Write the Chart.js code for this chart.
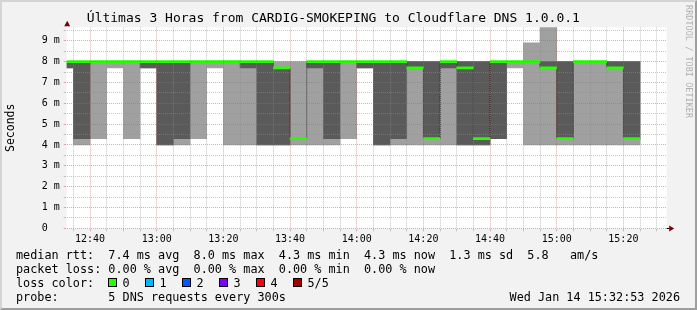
<!DOCTYPE html>
<html>
<head>
<meta charset="utf-8">
<script src="https://cdn.jsdelivr.net/npm/chart.js@4.4.1/dist/chart.umd.min.js"></script>
<style>
  html, body { margin: 0; padding: 0; background: #f2f2f2; }
  #wrap { position: relative; width: 697px; height: 310px; overflow: hidden; }
  #grafico { position: absolute; left: 0; top: 0; }
  #moldura { position: absolute; left: 0; top: 0; width: 697px; height: 310px; box-sizing: border-box;
    border-left: 2px solid #d4d4d4; border-top: 2px solid #d4d4d4;
    border-right: 2px solid #9e9e9e; border-bottom: 2px solid #9e9e9e; pointer-events: none; }
  .linha { position: absolute; left: 16px; font: 11.8px "DejaVu Sans Mono", monospace; line-height: 14px;
    white-space: pre; color: #000; }
  .quadrado { position: absolute; width: 7px; height: 7px; border: 1px solid #000; }
  #marca { position: absolute; left: 684px; top: 5px; writing-mode: vertical-rl;
    font: 8.4px "DejaVu Sans Mono", monospace; line-height: 9px; color: #b0b0b0; letter-spacing: 0.1px; }
</style>
</head>
<body>
<div id="wrap">
  <canvas id="grafico" width="697" height="310"></canvas>
  <div id="legenda"></div>
  <div id="marca">RRDTOOL / TOBI OETIKER</div>
  <div id="moldura"></div>
</div>
<script>
// Horários de início de cada intervalo de 5 minutos
const columnTimes = ['12:30', '12:35', '12:40', '12:45', '12:50', '12:55', '13:00', '13:05', '13:10',
    '13:15', '13:20', '13:25', '13:30', '13:35', '13:40', '13:45', '13:50', '13:55', '14:00', '14:05',
    '14:10', '14:15', '14:20', '14:25', '14:30', '14:35', '14:40', '14:45', '14:50', '14:55', '15:00',
    '15:05', '15:10', '15:15', '15:20'];

// Os 5 pings ordenados (ms) de cada intervalo
const pingMin = [7.7, 4.0, 4.3, 7.7, 4.3, 7.7, 4.0, 4.0, 4.3, 7.7, 4.0, 4.0, 4.0, 4.0, 4.0, 4.0, 4.0,
    4.3, 7.7, 4.0, 4.0, 4.0, 4.0, 4.0, 4.0, 4.0, 4.3, 7.7, 4.0, 4.0, 4.0, 4.0, 4.0, 4.0, 4.0];
const pingLow = [7.7, 4.3, 8.0, 8.0, 8.0, 7.7, 4.0, 4.3, 8.0, 8.0, 8.0, 7.7, 4.0, 4.0, 4.3, 7.7, 4.3,
    8.0, 7.7, 4.0, 4.3, 7.7, 4.3, 7.7, 4.0, 4.0, 4.3, 8.0, 8.0, 7.7, 4.3, 8.0, 8.0, 7.7, 4.3];
const pingMedian = [8.0, 8.0, 8.0, 8.0, 8.0, 8.0, 8.0, 8.0, 8.0, 8.0, 8.0, 8.0, 8.0, 7.7, 4.3, 8.0, 8.0,
    8.0, 8.0, 8.0, 8.0, 7.7, 4.3, 8.0, 7.7, 4.3, 8.0, 8.0, 8.0, 7.7, 4.3, 8.0, 8.0, 7.7, 4.3];
const pingHigh = [8.0, 8.0, 8.0, 8.0, 8.0, 8.0, 8.0, 8.0, 8.0, 8.0, 8.0, 8.0, 8.0, 7.7, 4.3, 8.0, 8.0,
    8.0, 8.0, 8.0, 8.0, 8.0, 8.0, 8.0, 8.0, 8.0, 8.0, 8.0, 8.0, 8.0, 8.0, 8.0, 8.0, 8.0, 8.0];
const pingMax = [8.0, 8.0, 8.0, 8.0, 8.0, 8.0, 8.0, 8.0, 8.0, 8.0, 8.0, 8.0, 8.0, 8.0, 8.0, 8.0, 8.0,
    8.0, 8.0, 8.0, 8.0, 8.0, 8.0, 8.0, 8.0, 8.0, 8.0, 8.0, 8.9, 9.8, 8.0, 8.0, 8.0, 8.0, 8.0];

// Rótulos dos eixos
const timeLabels = ['12:40', '13:00', '13:20', '13:40', '14:00', '14:20', '14:40', '15:00', '15:20'];
const yLabels = ['0  ', '1 m', '2 m', '3 m', '4 m', '5 m', '6 m', '7 m', '8 m', '9 m'];

// Textos da legenda
const statsLines = [
    'median rtt:  7.4 ms avg  8.0 ms max  4.3 ms min  4.3 ms now  1.3 ms sd  5.8   am/s',
    'packet loss: 0.00 % avg  0.00 % max  0.00 % min  0.00 % now'
];
const lossLabels = ['0', '1', '2', '3', '4', '5/5'];
const lossColors = ['#26ff00', '#00b8ff', '#0059ff', '#7e00ff', '#ff0000', '#a10000'];
const probeText = 'probe:       5 DNS requests every 300s';
const dateText = 'Wed Jan 14 15:32:53 2026';

// minutos desde 12:00
function paraMinutos(h) {
    const p = h.split(':');
    return (parseInt(p[0]) - 12) * 60 + parseInt(p[1]);
}

const inicio = 33, fim = 213;
const centros = columnTimes.map((t) => paraMinutos(t) + 2.5);

function faixa(baixo, alto) {
    return centros.map((x, i) => ({ x: x, y: [baixo[i], alto[i]] }));
}

const fonteMono = 'DejaVu Sans Mono';

// fundo branco da área do gráfico + setas dos eixos
const pluginFundo = {
    id: 'fundo',
    beforeDraw(chart) {
        const { ctx, chartArea: a } = chart;
        ctx.save();
        ctx.fillStyle = '#ffffff';
        ctx.fillRect(a.left, a.top, a.right - a.left, a.bottom - a.top);
        ctx.restore();
    },
    afterDraw(chart) {
        const { ctx, chartArea: a } = chart;
        ctx.save();
        ctx.strokeStyle = '#000';
        ctx.lineWidth = 1;
        ctx.beginPath();
        ctx.moveTo(a.right, Math.round(a.bottom) + 0.5);
        ctx.lineTo(a.right + 3, Math.round(a.bottom) + 0.5);
        ctx.stroke();
        ctx.fillStyle = '#7f0000';
        ctx.beginPath();
        ctx.moveTo(a.left + 0.5, a.top - 6.5);
        ctx.lineTo(a.left - 2.5, a.top - 1);
        ctx.lineTo(a.left + 3.5, a.top - 1);
        ctx.closePath();
        ctx.fill();
        const yb = Math.round(a.bottom) + 0.5;
        ctx.beginPath();
        ctx.moveTo(a.right + 7.5, yb);
        ctx.lineTo(a.right + 2.5, yb - 3);
        ctx.lineTo(a.right + 2.5, yb + 3);
        ctx.closePath();
        ctx.fill();
        ctx.restore();
    }
};

const contexto = document.getElementById('grafico').getContext('2d');
const grafico = new Chart(contexto, {
    data: {
        datasets: [
            {
                type: 'bar',
                label: 'fumaça externa',
                data: faixa(pingMin, pingMax),
                backgroundColor: '#a0a0a0',
                grouped: false,
                barPercentage: 1,
                categoryPercentage: 1,
                borderWidth: 0,
                order: 4
            },
            {
                type: 'bar',
                label: 'fumaça interna',
                data: faixa(pingLow, pingHigh),
                backgroundColor: '#5a5a5a',
                grouped: false,
                barPercentage: 1,
                categoryPercentage: 1,
                borderWidth: 0,
                order: 3
            },
            {
                type: 'line',
                label: 'mediana degraus',
                data: centros.map((x, i) => ({ x: x, y: pingMedian[i] })),
                stepped: 'middle',
                borderColor: '#202020',
                borderWidth: 1,
                borderDash: [1, 1],
                pointRadius: 0,
                fill: false,
                order: 2
            },
            {
                type: 'bar',
                label: 'mediana',
                data: centros.map((x, i) => ({ x: x, y: [pingMedian[i] - 0.05, pingMedian[i] + 0.05] })),
                backgroundColor: lossColors[0],
                grouped: false,
                barPercentage: 1,
                categoryPercentage: 1,
                borderWidth: 0,
                order: 1
            }
        ]
    },
    options: {
        responsive: false,
        animation: false,
        devicePixelRatio: 1,
        layout: { padding: { left: 0, right: 30.3, top: 0, bottom: 61.7 } },
        plugins: {
            legend: { display: false },
            tooltip: { enabled: false },
            title: {
                display: true,
                text: 'Últimas 3 Horas from CARDIG-SMOKEPING to Cloudflare DNS 1.0.0.1',
                color: '#000',
                font: { family: fonteMono, size: 13, weight: 'normal' },
                padding: { top: 11, bottom: 0.7 }
            }
        },
        scales: {
            x: {
                type: 'linear',
                min: inicio,
                max: fim,
                offset: false,
                afterBuildTicks(scale) {
                    const t = [];
                    for (let v = 35; v < fim; v += 5) t.push({ value: v });
                    scale.ticks = t;
                },
                afterFit(scale) { scale.height = 20; },
                ticks: {
                    autoSkip: false,
                    maxRotation: 0,
                    padding: 2,
                    color: '#000',
                    font: { family: fonteMono, size: 10 },
                    callback(v) {
                        const l = timeLabels.find((s) => paraMinutos(s) === v);
                        return l || '';
                    }
                },
                grid: {
                    z: 1,
                    offset: false,
                    tickLength: 3,
                    color(c) {
                        return c.tick && c.tick.value % 20 === 0 ? 'rgba(222,80,80,0.5)' : 'rgba(143,143,143,0.5)';
                    }
                },
                border: { color: '#000', width: 1, dash: [1, 1] }
            },
            y: {
                min: 0,
                max: 9.65,
                afterBuildTicks(scale) {
                    const t = [];
                    for (let v = 0; v <= 9.5; v += 0.5) t.push({ value: v });
                    scale.ticks = t;
                },
                afterFit(scale) { scale.width = 66.7; },
                ticks: {
                    autoSkip: false,
                    padding: 4,
                    color: '#000',
                    font: { family: fonteMono, size: 10 },
                    callback(v) {
                        return Number.isInteger(v) ? yLabels[v] : '';
                    }
                },
                grid: {
                    z: 1,
                    tickLength: 3,
                    color(c) {
                        if (!c.tick) return 'rgba(143,143,143,0.5)';
                        return Number.isInteger(c.tick.value) ? 'rgba(222,80,80,0.5)' : 'rgba(143,143,143,0.5)';
                    }
                },
                border: { color: '#555', width: 1, dash: [1, 1] },
                title: {
                    display: true,
                    text: 'Seconds',
                    color: '#000',
                    font: { family: fonteMono, size: 11.5 },
                    padding: { top: 4, bottom: 0 }
                }
            }
        }
    },
    plugins: [pluginFundo]
});

// Legenda no rodapé
const legenda = document.getElementById('legenda');
function addTexto(txt, x, y) {
    const d = document.createElement('div');
    d.className = 'linha';
    d.style.left = x + 'px';
    d.style.top = y + 'px';
    d.textContent = txt;
    legenda.appendChild(d);
    return d;
}
addTexto(statsLines[0], 16, 247.7);
addTexto(statsLines[1], 16, 261.7);
addTexto('loss color:', 16, 275.7);
lossLabels.forEach((l, i) => {
    const q = document.createElement('div');
    q.className = 'quadrado';
    q.style.left = (108 + i * 37) + 'px';
    q.style.top = '278.3px';
    q.style.background = lossColors[i];
    legenda.appendChild(q);
    addTexto(l, 122.5 + i * 37, 275.7);
});
addTexto(probeText, 16, 289.7);
const data = addTexto(dateText, 0, 289.7);
data.style.left = 'auto';
data.style.right = '17px';
</script>
</body>
</html>
